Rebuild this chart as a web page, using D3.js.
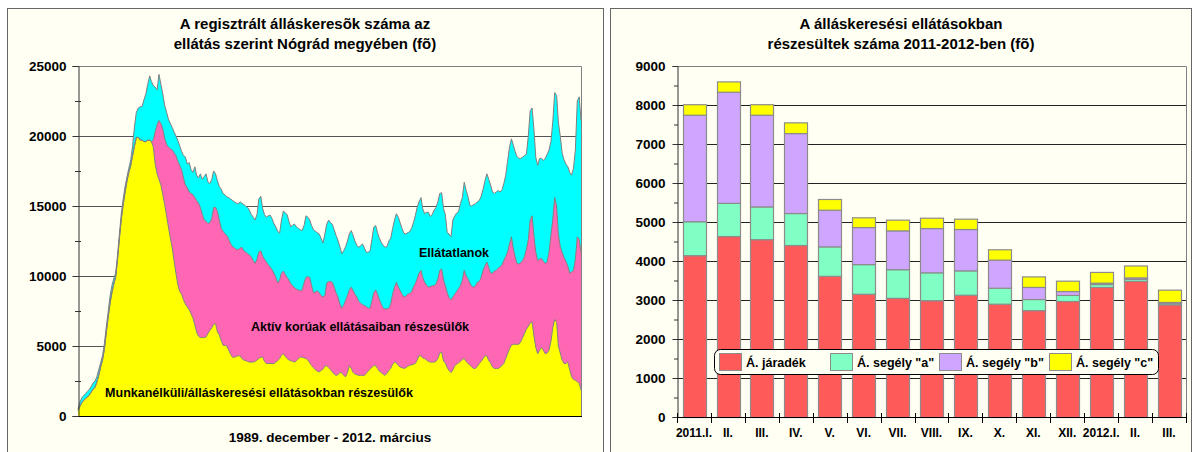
<!DOCTYPE html>
<html>
<head>
<meta charset="utf-8">
<script src="https://cdn.jsdelivr.net/npm/d3@7"></script>
<style>
  body { margin: 0; background: #fff; }
  svg text { font-family: "Liberation Sans", Arial, sans-serif; font-weight: bold; fill: #000; }
</style>
</head>
<body>
<svg id="chart" width="1197" height="452"></svg>
<script>
// ---- left chart: monthly data, 1989 Dec .. 2012 Mar ----
const firstMonth = new Date(1989, 11, 1);
const lastMonth = new Date(2012, 2, 1);

// Munkanélküli/álláskeresési ellátásokban részesülők (yellow)
const benefitRecipients = [
  400,                                                                    // 1989 XII
  700, 950, 1100, 1250, 1350, 1500, 1700, 1900, 2050, 2400, 2900, 3500,    // 1990
  4000, 4800, 5900, 7000, 8000, 8800, 9400, 9900, 11200, 12700, 14100, 15100, // 1991
  16000, 16800, 17400, 17900, 18600, 19300, 19900, 19900, 19700, 19700, 19600, 19600, // 1992
  19700, 19700, 19600, 19200, 18000, 17300, 16900, 16500, 15800, 15100, 14300, 13500, // 1993
  12700, 12000, 11100, 10200, 9400, 8900, 8700, 8300, 8000, 7800, 7600, 7300, // 1994
  7000, 6500, 6000, 5700, 5600, 5600, 5600, 5650, 5900, 6100, 6300, 6550,   // 1995
  6600, 6000, 5800, 5400, 5050, 5050, 5000, 4700, 4400, 4200, 4200, 4250,   // 1996
  4300, 4300, 4100, 4000, 3950, 3900, 3850, 3850, 3850, 3900, 4000, 4100,   // 1997
  4200, 4200, 3900, 3750, 3750, 3750, 3750, 3750, 3850, 3950, 4100, 4350,   // 1998
  4450, 4250, 4100, 4000, 3950, 3900, 3850, 3950, 4100, 4200, 4200, 4150,   // 1999
  4100, 4000, 3800, 3600, 3450, 3300, 3200, 3150, 3250, 3350, 3550, 3600,   // 2000
  3450, 3300, 3150, 3000, 2900, 2950, 3100, 3100, 2900, 2800, 3100, 3600,   // 2001
  3400, 3100, 3000, 2950, 2900, 2900, 2900, 2900, 3050, 3200, 3350, 3500,   // 2002
  3600, 3600, 3400, 3200, 3100, 3000, 2900, 3050, 3250, 3400, 3700, 3850,   // 2003
  3800, 3600, 3500, 3450, 3400, 3450, 3550, 3620, 3650, 3700, 3750, 4000,   // 2004
  4300, 4300, 4150, 4100, 4000, 3900, 3850, 3850, 3850, 3900, 4100, 4500,   // 2005
  4550, 3900, 3800, 3450, 3250, 3100, 3300, 3600, 3700, 3800, 3900, 4050,   // 2006
  4100, 3900, 3750, 3650, 3500, 3400, 3400, 3550, 3750, 3900, 4100, 4300,   // 2007
  4300, 3950, 3800, 3500, 3400, 3400, 3380, 3500, 3600, 3750, 4100, 4450,   // 2008
  4800, 5050, 5120, 5120, 5120, 5120, 5300, 5600, 5900, 6200, 6400, 6650,   // 2009
  6700, 5700, 4900, 4450, 4700, 4900, 4700, 4450, 4500, 4700, 5300, 6300,   // 2010
  6900, 6700, 5000, 4500, 4000, 3750, 3750, 3850, 3300, 2800, 2600, 2550,   // 2011
  2450, 2350, 1850                                                          // 2012
];

// Aktív korúak ellátásaiban részesülők (pink)
const activeAgeAid = [
  0,
  0, 0, 0, 0, 0, 0, 0, 0, 0, 0, 0, 0,
  0, 0, 0, 0, 0, 0, 0, 0, 0, 0, 0, 0,
  0, 0, 0, 0, 0, 0, 0, 0, 0, 0, 0, 0,
  0, 0, 0, 500, 2300, 3500, 4200, 4400, 4700, 4700, 5100, 5700,            // 1993
  6400, 7000, 7700, 8400, 8800, 9000, 8900, 8700, 8500, 8500, 8400, 8600,   // 1994
  8800, 9100, 9400, 9500, 9300, 8800, 8400, 8250, 7850, 7700, 7800, 8350,   // 1995
  8300, 8600, 8200, 8000, 8150, 7950, 7900, 7900, 7900, 7900, 7800, 7650,   // 1996
  7550, 7700, 7950, 7800, 7750, 7700, 7650, 7500, 7250, 7000, 7200, 7600,   // 1997
  7600, 7200, 7300, 7250, 7050, 6900, 6700, 6450, 6050, 5550, 5600, 5850,   // 1998
  5900, 5850, 5800, 5700, 5500, 5400, 5300, 5100, 4900, 4750, 4800, 5350,   // 1999
  5800, 5950, 6100, 5700, 5350, 5550, 5750, 5650, 5350, 5150, 5050, 5900,   // 2000
  6150, 6300, 6400, 6200, 5900, 5550, 4900, 4600, 5000, 5450, 5500, 5400,   // 2001
  5800, 5850, 5700, 5550, 5300, 5150, 5050, 5000, 4750, 4500, 4350, 4700,   // 2002
  5200, 5400, 5300, 5100, 4900, 4700, 4750, 4600, 4450, 4600, 5000, 5350,   // 2003
  5750, 5600, 5450, 5250, 5100, 5100, 5150, 5130, 5200, 5500, 5700, 5800,   // 2004
  5900, 6100, 5750, 5450, 5350, 5300, 5400, 5450, 5470, 5500, 5700, 5900,   // 2005
  5950, 5800, 5500, 5350, 5200, 5200, 5200, 5100, 5200, 5300, 5400, 5650,   // 2006
  6300, 6100, 6050, 5850, 5750, 5800, 5900, 6000, 5850, 6000, 6300, 6400,   // 2007
  6700, 6650, 6400, 6700, 6950, 7000, 7170, 7150, 7200, 7350, 7300, 7250,   // 2008
  7500, 7750, 6880, 6280, 5780, 5730, 5650, 5500, 5500, 5700, 6200, 7350,   // 2009
  7600, 7100, 6800, 6650, 6500, 6350, 6350, 6450, 6500, 7000, 7600, 7700,   // 2010
  8700, 8300, 8000, 7600, 7700, 7550, 7300, 6850, 6900, 7500, 7800, 8650,   // 2011
  10350, 10250, 9850                                                        // 2012
];

// Ellátatlanok (cyan)
const unprovided = [
  100,
  300, 350, 350, 350, 400, 400, 400, 450, 450, 400, 400, 300,               // 1990
  300, 400, 400, 400, 500, 500, 400, 300, 300, 300, 400, 400,               // 1991
  400, 300, 300, 400, 700, 1400, 1800, 2100, 2400, 2400, 3000, 3400,        // 1992
  4000, 4600, 4300, 3900, 3200, 2500, 3300, 2800, 2500, 2400, 2300, 2000,   // 1993
  1800, 1600, 1500, 1400, 1500, 1400, 1300, 1600, 2000, 1700, 2100, 1700,   // 1994
  1600, 2200, 1800, 1800, 2400, 2500, 3100, 3400, 2950, 2800, 2800, 2600,   // 1995
  2400, 2200, 2400, 2800, 2700, 2800, 2750, 3000, 3200, 3300, 3300, 3300,   // 1996
  3300, 3300, 3150, 3300, 3300, 3300, 3200, 3050, 3100, 3100, 3200, 3800,   // 1997
  3900, 3400, 3200, 3200, 3500, 3700, 3650, 3550, 3600, 3700, 3350, 3800,   // 1998
  4300, 4400, 4500, 4200, 4050, 4350, 4550, 4450, 4400, 4350, 4250, 4100,   // 1999
  4400, 4250, 4100, 4300, 4500, 4350, 4150, 4200, 4100, 3850, 4400, 4200,   // 2000
  4400, 4200, 4150, 4100, 4100, 4050, 4100, 3900, 3900, 3850, 3900, 4000,   // 2001
  4050, 3950, 3800, 3700, 3850, 4100, 4350, 4100, 3900, 4000, 4100, 4400,   // 2002
  4700, 4600, 4400, 4400, 4400, 4500, 4400, 4450, 4800, 4700, 4700, 4800,   // 2003
  4900, 5000, 4850, 4700, 4550, 4450, 4400, 4400, 4550, 4600, 4850, 5100,   // 2004
  5100, 5200, 4900, 4900, 5200, 5350, 5000, 5100, 5380, 5500, 5500, 5500,   // 2005
  5450, 5100, 5100, 4300, 4550, 4500, 5500, 5600, 5600, 5500, 5900, 5900,   // 2006
  6300, 6100, 5900, 5550, 5750, 5900, 5850, 5750, 5800, 5800, 5800, 6100,   // 2007
  6300, 6300, 6300, 5800, 5550, 5600, 5550, 5350, 5350, 5500, 5800, 6500,   // 2008
  6900, 7000, 7400, 7500, 7650, 7550, 7450, 7400, 7200, 6800, 7400, 7800,   // 2009
  7700, 7600, 6800, 6800, 7200, 7150, 7200, 7500, 7700, 7300, 6700, 7000,   // 2010
  7500, 7900, 8000, 7900, 7100, 7000, 6950, 7100, 7200, 6900, 7300, 7800,   // 2011
  9700, 10200, 9400                                                         // 2012
];

const leftTicks = [0, 5000, 10000, 15000, 20000, 25000];

// ---- right chart: 2011-2012 monthly ----
const barMonths = ["2011.I.", "II.", "III.", "IV.", "V.", "VI.", "VII.", "VIII.", "IX.", "X.", "XI.", "XII.", "2012.I.", "II.", "III."];
const jaradek  = [4150, 4640, 4560, 4410, 3620, 3160, 3055, 2995, 3135, 2905, 2740, 2975, 3335, 3490, 2890];
const segelyA  = [870, 850, 840, 820, 755, 760, 735, 715, 625, 410, 285, 155, 75, 50, 40];
const segelyB  = [2730, 2850, 2350, 2050, 940, 950, 995, 1135, 1060, 720, 310, 100, 35, 40, 20];
const segelyC  = [270, 265, 270, 275, 275, 250, 275, 265, 265, 265, 270, 265, 275, 305, 315];
const rightTicks = [0, 1000, 2000, 3000, 4000, 5000, 6000, 7000, 8000, 9000];
const legendNames = ['Á. járadék', 'Á. segély "a"', 'Á. segély "b"', 'Á. segély "c"'];

const CREAM = "#fffff3";
const svg = d3.select("#chart");

// panels
svg.append("rect").attr("x", 7.5).attr("y", 8.5).attr("width", 596).attr("height", 470)
  .attr("fill", CREAM).attr("stroke", "#666");
svg.append("rect").attr("x", 610.5).attr("y", 8.5).attr("width", 581).attr("height", 470)
  .attr("fill", CREAM).attr("stroke", "#666");

// ================= LEFT CHART =================
const months = d3.timeMonth.range(firstMonth, d3.timeMonth.offset(lastMonth, 1));
const rows = months.map((m, i) => ({
  date: m, benefit: benefitRecipients[i], aid: activeAgeAid[i], none: unprovided[i]
}));

const xL = d3.scaleTime().domain([firstMonth, lastMonth]).range([78, 581]);
const yL = d3.scaleLinear().domain([0, 25000]).range([416, 66]);
const gL = svg.append("g");

gL.selectAll(".grid").data(leftTicks.slice(1, -1)).enter().append("line")
  .attr("x1", 78).attr("x2", 581).attr("y1", d => yL(d) + 0.5).attr("y2", d => yL(d) + 0.5)
  .attr("stroke", "#555");

const stackL = d3.stack().keys(["benefit", "aid", "none"])(rows);
const colorsL = { benefit: "#ffff00", aid: "#ff66b3", none: "#00ffff" };
const areaL = d3.area().x(d => xL(d.data.date)).y0(d => yL(d[0])).y1(d => yL(d[1]));
const lineL = d3.line().x(d => xL(d.data.date)).y(d => yL(d[1]));

gL.selectAll(".layer").data(stackL.slice().reverse()).enter().append("path")
  .attr("d", areaL).attr("fill", d => colorsL[d.key]);
gL.selectAll(".edge").data(stackL).enter().append("path")
  .attr("d", lineL).attr("fill", "none").attr("stroke", "#808080").attr("stroke-width", 1);

// frame
gL.append("path").attr("d", `M78,66.5H581.5V416`).attr("fill", "none").attr("stroke", "#808080");
gL.append("line").attr("x1", 78).attr("x2", 582).attr("y1", 416.5).attr("y2", 416.5).attr("stroke", "#000");

const axL = gL.append("g").attr("transform", "translate(78.5,0)")
  .call(d3.axisLeft(yL).tickValues(leftTicks).tickSize(6).tickPadding(6).tickFormat(d3.format("d")));
axL.select(".domain").attr("stroke", "#333");
axL.selectAll(".tick line").attr("stroke", "#333");
axL.selectAll("text").attr("font-size", 13.5).attr("font-family", null);
gL.selectAll(".minor").data(d3.range(2500, 25000, 5000)).enter().append("line")
  .attr("x1", 75).attr("x2", 81).attr("y1", d => yL(d) + 0.5).attr("y2", d => yL(d) + 0.5)
  .attr("stroke", "#333");

gL.append("text").attr("x", 454).attr("y", 257).attr("text-anchor", "middle")
  .attr("font-size", 12.5).text("Ellátatlanok");
gL.append("text").attr("x", 360).attr("y", 331).attr("text-anchor", "middle")
  .attr("font-size", 12.5).text("Aktív korúak ellátásaiban részesülők");
gL.append("text").attr("x", 259).attr("y", 397).attr("text-anchor", "middle")
  .attr("font-size", 12.5).text("Munkanélküli/álláskeresési ellátásokban részesülők");

gL.append("text").attr("x", 305).attr("y", 29).attr("text-anchor", "middle")
  .attr("font-size", 15).text("A regisztrált álláskeresõk száma az");
gL.append("text").attr("x", 305).attr("y", 49).attr("text-anchor", "middle")
  .attr("font-size", 15).text("ellátás szerint Nógrád megyében (fõ)");
gL.append("text").attr("x", 330).attr("y", 442).attr("text-anchor", "middle")
  .attr("font-size", 13.5).text("1989. december - 2012. március");

// ================= RIGHT CHART =================
const barRows = barMonths.map((m, i) => ({
  idx: i, jaradek: jaradek[i], a: segelyA[i], b: segelyB[i], c: segelyC[i]
}));
const keysR = ["jaradek", "a", "b", "c"];
const colorsR = { jaradek: "#ff5a5a", a: "#80ffc4", b: "#cfa6ff", c: "#ffff00" };

const xR = d3.scaleBand().domain(d3.range(barMonths.length)).range([677, 1186])
  .paddingInner(0.33).paddingOuter(0.165);
const yR = d3.scaleLinear().domain([0, 9000]).range([417, 66]);
const gR = svg.append("g");

gR.selectAll(".grid").data(rightTicks.slice(1, -1)).enter().append("line")
  .attr("x1", 677).attr("x2", 1186).attr("y1", d => yR(d) + 0.5).attr("y2", d => yR(d) + 0.5)
  .attr("stroke", "#222");
gR.append("path").attr("d", `M677,66.5H1186.5V417`).attr("fill", "none").attr("stroke", "#808080");

const stackR = d3.stack().keys(keysR)(barRows);
gR.selectAll(".series").data(stackR).enter().append("g")
  .attr("fill", d => colorsR[d.key])
  .selectAll("rect").data(d => d).enter().append("rect")
  .attr("x", d => Math.round(xR(d.data.idx)) + 0.5)
  .attr("width", Math.round(xR.bandwidth()))
  .attr("y", d => yR(d[1]) + 0.5)
  .attr("height", d => Math.max(0, yR(d[0]) - yR(d[1])))
  .attr("stroke", "#8c8c8c").attr("stroke-width", 1.2);

const axR = gR.append("g").attr("transform", "translate(677.5,0)")
  .call(d3.axisLeft(yR).tickValues(rightTicks).tickSize(5).tickPadding(7).tickFormat(d3.format("d")));
axR.select(".domain").attr("stroke", "#333");
axR.selectAll(".tick line").attr("stroke", "#333");
axR.selectAll("text").attr("font-size", 13.5).attr("font-family", null);
gR.selectAll(".minor").data(d3.range(500, 9000, 1000)).enter().append("line")
  .attr("x1", 674).attr("x2", 678).attr("y1", d => yR(d) + 0.5).attr("y2", d => yR(d) + 0.5)
  .attr("stroke", "#333");

// x axis with ticks between categories
gR.append("line").attr("x1", 677).attr("x2", 1187).attr("y1", 417.5).attr("y2", 417.5).attr("stroke", "#000");
const bounds = d3.range(barMonths.length + 1).map(k => 677 + k * xR.step());
gR.selectAll(".xtick").data(bounds).enter().append("line")
  .attr("x1", d => Math.round(d) + 0.5).attr("x2", d => Math.round(d) + 0.5)
  .attr("y1", 413).attr("y2", 423).attr("stroke", "#000");
gR.selectAll(".xlab").data(barMonths).enter().append("text")
  .attr("x", (d, i) => xR(i) + xR.bandwidth() / 2).attr("y", 437)
  .attr("text-anchor", "middle").attr("font-size", 12).text(d => d);

// legend
const lg = gR.append("g");
lg.append("rect").attr("x", 714.5).attr("y", 349.5).attr("width", 444).attr("height", 25).attr("rx", 6)
  .attr("fill", CREAM).attr("stroke", "#000");
const legendX = [719, 830, 939, 1049];
keysR.forEach((k, i) => {
  lg.append("rect").attr("x", legendX[i] + 0.5).attr("y", 353.5).attr("width", 22).attr("height", 17)
    .attr("fill", colorsR[k]).attr("stroke", "#8c8c8c");
  lg.append("text").attr("x", legendX[i] + 27).attr("y", 366.5).attr("font-size", 12.5).text(legendNames[i]);
});

gR.append("text").attr("x", 901).attr("y", 29).attr("text-anchor", "middle")
  .attr("font-size", 15).text("A álláskeresési ellátásokban");
gR.append("text").attr("x", 901).attr("y", 49).attr("text-anchor", "middle")
  .attr("font-size", 15).text("részesültek száma 2011-2012-ben (fõ)");
</script>
</body>
</html>
